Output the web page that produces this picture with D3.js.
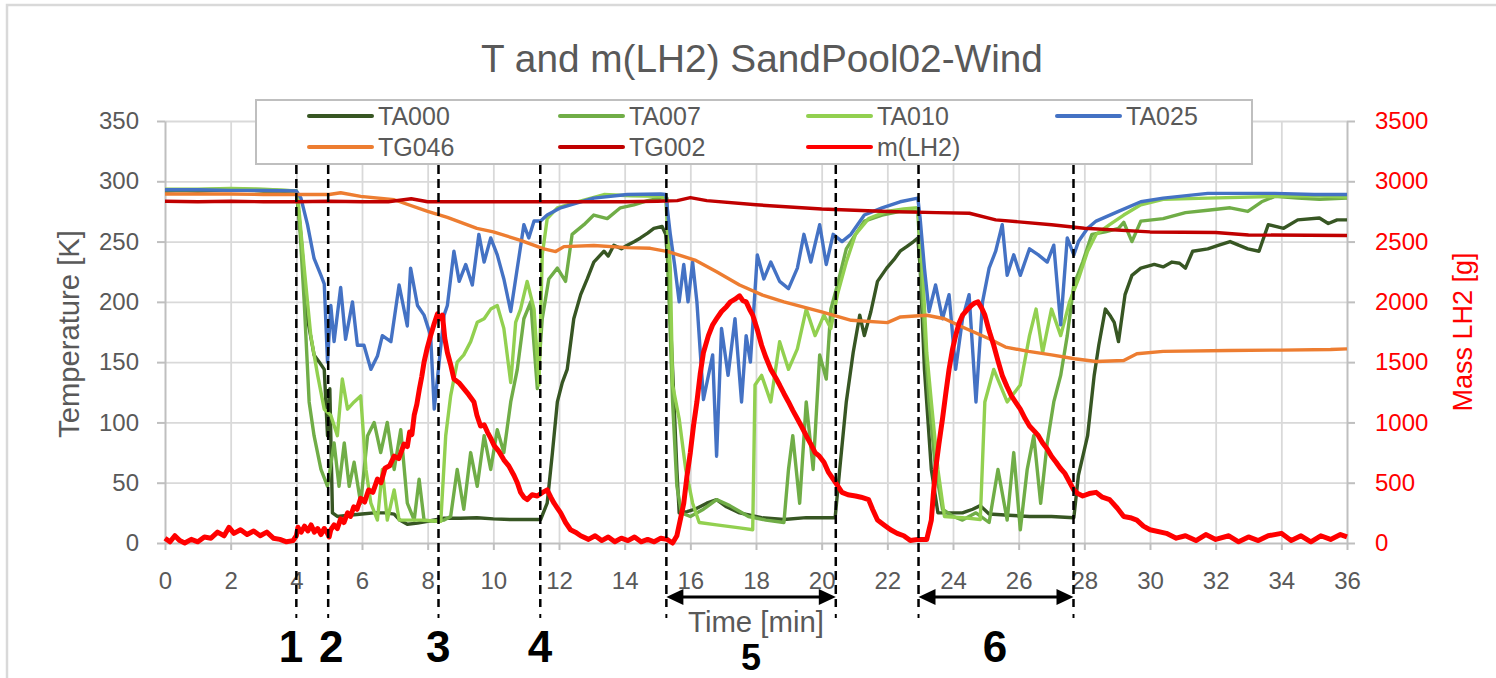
<!DOCTYPE html>
<html><head><meta charset="utf-8">
<script src="https://cdn.jsdelivr.net/npm/d3@7"></script>
<style>
body{margin:0;background:#fff;}
svg{display:block;}
text{font-family:"Liberation Sans",Arial,sans-serif;}
</style>
</head><body>
<svg id="chart" width="1496" height="678"></svg>
<script>
// ---------------- DATA ----------------
const chartTitle = "T and m(LH2) SandPool02-Wind";
const xTicks = [0,2,4,6,8,10,12,14,16,18,20,22,24,26,28,30,32,34,36];
const yTicks = [0,50,100,150,200,250,300,350];
const y2Ticks = [0,500,1000,1500,2000,2500,3000,3500];
const seriesNames = ["TA000","TA007","TA010","TA025","TG046","TG002","m(LH2)"];
const seriesColors = ["#375623","#70ad47","#92d050","#4472c4","#ed7d31","#c00000","#ff0000"];

// [time min, temperature K]
const TA000 = [[0,292],[0.5,292.5],[1,292],[1.5,292.5],[2,293],[2.5,292.5],[3,292],[3.5,292],[4,291.5],[4.14,255],[4.34,186],[4.54,156],[4.7,150],[4.85,144],[4.95,89],[5.02,128],[5.1,25],[5.25,22],[5.6,23],[6,24],[6.37,25],[6.7,25],[6.98,24],[7.15,19],[7.38,15.5],[7.69,16.5],[8,18],[8.5,20.5],[9,20.5],[9.5,21],[10,20],[10.5,19.5],[11.03,19.5],[11.44,19.5],[11.64,33],[11.8,75],[11.95,117],[12.1,133],[12.25,144],[12.45,186],[12.66,206],[12.86,219],[13.06,233],[13.37,242],[13.5,238],[13.67,247],[13.9,244],[14.08,247],[14.3,250],[14.48,253],[14.7,257],[14.89,261],[15.14,262.5],[15.25,256],[15.32,230],[15.46,144],[15.59,61],[15.66,25],[15.9,26],[16.14,28],[16.5,33],[16.8,36],[17.1,30],[17.5,25],[18.17,21],[18.85,19.5],[19.53,21],[20.41,21],[20.55,61],[20.75,117],[20.96,158],[21.16,189],[21.3,172],[21.5,192],[21.7,217],[21.98,228],[22.2,235],[22.39,242],[22.6,246],[22.8,250],[22.93,253],[23.0,228],[23.13,144],[23.34,61],[23.54,25],[24,25],[24.29,25],[24.6,28],[24.83,31],[25.1,24],[25.7,23],[26.33,22],[27,22],[27.68,21],[27.82,56],[28.1,89],[28.3,139],[28.44,164],[28.64,194],[28.8,188],[28.91,183],[29.04,167],[29.24,206],[29.45,222],[29.72,228],[30.13,231],[30.4,229],[30.67,233],[30.9,232],[31.08,228],[31.3,242],[31.76,244],[32.1,247],[32.44,250],[32.7,247],[32.98,244],[33.32,242],[33.6,264],[34.07,261],[34.5,268],[35.16,269.5],[35.43,265],[35.7,268],[36,268]];

const TA007 = [[0,293],[1,293],[2,293.5],[3,293],[4,292],[4.09,269],[4.24,200],[4.39,117],[4.54,89],[4.75,61],[4.95,47],[5.15,83],[5.3,47],[5.46,83],[5.61,47],[5.76,67],[5.96,33],[6.17,89],[6.37,100],[6.57,75],[6.77,100],[6.98,61],[7.18,94],[7.38,33],[7.59,19],[7.74,53],[7.89,19],[8.2,18],[8.5,19],[8.7,22],[8.9,61],[9.1,28],[9.31,75],[9.51,47],[9.72,89],[9.92,61],[10.12,94],[10.32,75],[10.53,117],[10.73,144],[10.93,186],[11.14,200],[11.34,128],[11.49,186],[11.69,219],[11.95,228],[12.2,217],[12.4,256],[12.76,264],[13.06,272],[13.47,269],[13.87,278],[14.28,280.5],[14.7,284],[15.1,286],[15.29,286],[15.32,228],[15.46,117],[15.59,47],[15.73,25],[16,22],[16.4,28],[16.8,36],[17.2,31],[17.77,22],[18.3,19],[18.85,17],[18.99,61],[19.12,89],[19.33,33],[19.53,117],[19.74,61],[19.94,156],[20.14,136],[20.28,194],[20.48,214],[20.75,244],[21.03,256],[21.3,267],[21.84,272],[22.39,275],[22.93,275],[23.07,200],[23.27,117],[23.47,61],[23.68,28],[24.01,22],[24.29,19],[24.7,25],[25.1,17],[25.37,61],[25.65,19],[25.85,75],[26.05,11],[26.26,61],[26.46,89],[26.67,33],[26.87,83],[27.07,117],[27.28,139],[27.48,172],[27.68,214],[27.95,233],[28.23,256],[28.64,258],[29.04,261],[29.2,266],[29.45,250],[29.72,267],[30.4,269],[31.08,274],[31.76,276],[32.44,278],[32.98,275],[33.4,283],[33.8,287.5],[34.5,286],[35.16,285],[36,286]];

const TA010 = [[0,293.5],[1,293.5],[2,294],[3,293.5],[4,292],[4.04,289],[4.24,228],[4.44,172],[4.65,139],[4.85,111],[5.05,106],[5.25,89],[5.4,136],[5.56,111],[5.76,117],[5.96,122],[6.12,61],[6.27,33],[6.47,19],[6.62,61],[6.77,19],[6.98,44],[7.13,19],[7.38,19],[7.79,19],[8.4,18],[8.55,89],[8.7,122],[8.9,150],[9.1,156],[9.31,167],[9.51,183],[9.72,186],[9.92,194],[10.12,197],[10.32,178],[10.53,133],[10.68,183],[10.83,194],[11.03,217],[11.24,194],[11.39,131],[11.49,239],[11.64,269],[11.95,278],[12.56,283],[13.37,289],[14.2,288],[15.1,287.5],[15.25,285],[15.39,228],[15.46,131],[15.66,103],[15.86,61],[16.07,33],[16.27,17],[16.8,15],[17.5,12.5],[17.9,11],[17.97,131],[18.17,139],[18.45,117],[18.72,167],[18.99,144],[19.26,161],[19.53,194],[19.8,172],[20.07,189],[20.28,178],[20.48,206],[20.75,233],[21.03,256],[21.43,269],[21.98,275],[22.5,277],[22.93,278],[23.07,228],[23.2,158],[23.34,117],[23.54,61],[23.74,22],[24.29,21],[24.83,19.5],[24.97,117],[25.24,144],[25.65,117],[26.05,131],[26.33,172],[26.53,194],[26.73,158],[27,194],[27.28,172],[27.55,200],[27.82,219],[28.1,242],[28.36,256],[28.77,264],[29.2,272],[29.72,280.5],[30.4,285],[31.76,286],[33.8,287.5],[35,288],[36,287]];

const TA025 = [[0,293],[1,293],[2,292.5],[3,292.5],[4,292],[4.14,286],[4.34,264],[4.54,236],[4.75,222],[4.85,215],[4.95,150],[5.05,197],[5.15,167],[5.35,212],[5.5,169],[5.71,200],[5.86,164],[6.06,164],[6.27,144],[6.47,155],[6.62,172],[6.88,167],[7.13,214],[7.38,180],[7.48,228],[7.69,197],[7.89,189],[8.09,172],[8.2,111],[8.35,150],[8.5,189],[8.6,197],[8.8,242],[8.96,217],[9.16,231],[9.36,214],[9.56,256],[9.72,233],[9.92,253],[10.12,239],[10.32,219],[10.53,192],[10.73,228],[10.93,264],[11.08,253],[11.24,267],[11.44,267],[11.64,272],[12.05,278],[12.56,282],[13.06,286],[14.08,289],[15.1,289.5],[15.25,289],[15.39,256],[15.52,231],[15.66,200],[15.8,231],[15.93,200],[16.07,233],[16.2,200],[16.4,119],[16.68,156],[16.8,72],[16.95,178],[17.15,139],[17.36,186],[17.56,117],[17.7,172],[17.83,150],[18.04,239],[18.24,219],[18.45,233],[18.72,217],[18.99,211],[19.26,228],[19.46,256],[19.67,233],[19.94,264],[20.14,231],[20.35,256],[20.62,250],[20.89,256],[21.3,272],[21.84,278],[22.39,283],[22.93,286],[23.0,269],[23.13,228],[23.27,192],[23.47,214],[23.68,186],[23.88,206],[24.08,144],[24.29,186],[24.49,206],[24.7,117],[24.9,200],[25.1,228],[25.3,242],[25.5,264],[25.65,222],[25.85,239],[26.05,222],[26.33,244],[26.6,239],[26.87,233],[27.07,247],[27.28,181],[27.48,253],[27.68,239],[27.82,250],[28.1,261],[28.36,267],[29.04,275],[29.72,283],[30.4,286],[31.76,290],[33.8,290],[35,289],[36,289]];

const TG046 = [[0,289.5],[1,289.5],[2,289.5],[3,289],[4,289],[5,289],[5.35,290.5],[5.96,287.5],[6.98,284.7],[8,275],[8.6,270],[9.5,261],[10,258],[10.83,251],[11.54,244],[11.9,241.7],[12.15,245.8],[13.06,246.7],[14.08,245],[14.78,244.4],[15.32,241.7],[16.14,234.7],[16.8,225],[17.5,214],[18.2,205.6],[18.85,200],[20,191.7],[20.9,184.7],[22,182.8],[22.4,187.5],[23.2,188.9],[23.74,186],[24.3,179],[25.1,169.4],[25.6,162.5],[26.3,158.9],[27,156],[27.7,152.8],[28.36,150.5],[29.2,151.4],[29.6,157],[30.4,158.9],[32.4,159.7],[34,160],[35.5,160.5],[36,161]];

const TG002 = [[0,283.5],[1,283],[2,283.5],[3,283],[4,283],[5,283.5],[6,283],[6.8,283],[7.5,285.5],[8,283],[9,283],[10,283],[11,283],[12,283],[13,283],[14,283],[15,283.5],[15.6,284],[16,286.5],[16.5,284],[18,280.5],[20,277],[22,275],[23.5,274],[24.5,273.5],[25.3,268],[27,264],[28,261],[30,258],[32,257.5],[33,255.5],[36,255]];

// [time min, mass g] (secondary axis)
const mLH2 = [[0,40],[0.15,10],[0.3,60],[0.45,20],[0.6,0],[0.8,30],[1.0,10],[1.2,50],[1.4,40],[1.6,90],[1.8,60],[1.95,130],[2.1,80],[2.3,110],[2.5,70],[2.7,100],[2.9,60],[3.1,90],[3.3,40],[3.5,30],[3.7,10],[3.9,20],
[4.0,60],[4.05,130],[4.15,90],[4.25,140],[4.35,100],[4.45,150],[4.55,90],[4.65,120],[4.75,70],[4.85,120],[4.95,80],[5.0,50],[5.05,110],
[5.15,150],[5.25,120],[5.35,200],[5.45,170],[5.56,250],[5.65,220],[5.75,300],[5.85,280],[5.96,370],[6.08,340],[6.2,440],[6.33,420],[6.47,530],[6.58,500],[6.7,620],[6.84,640],[6.98,720],[7.12,700],[7.28,820],[7.38,800],[7.45,920],[7.52,900],[7.59,1060],[7.67,1150],[7.75,1280],[7.82,1380],[7.89,1500],[7.99,1620],[8.09,1720],[8.2,1820],[8.3,1900],[8.38,1860],[8.45,1890],[8.52,1700],[8.6,1580],[8.7,1480],[8.8,1360],[8.95,1330],[9.1,1280],[9.25,1230],[9.41,1170],[9.5,1060],[9.61,970],[9.72,980],[9.82,920],[9.92,870],[10.02,810],[10.17,760],[10.32,690],[10.47,640],[10.63,560],[10.73,500],[10.83,420],[10.93,380],[11.03,360],[11.18,400],[11.34,390],[11.5,420],[11.64,440],[11.75,380],[11.85,330],[11.95,290],[12.05,250],[12.2,170],[12.35,110],[12.5,90],[12.66,60],
[12.9,30],[13.1,60],[13.3,20],[13.5,50],[13.7,10],[13.9,40],[14.1,20],[14.3,50],[14.5,10],[14.7,30],[14.9,10],[15.1,40],[15.29,30],[15.46,0],[15.59,60],
[15.7,200],[15.8,330],[15.9,560],[16,750],[16.1,980],[16.2,1170],[16.3,1400],[16.4,1580],[16.55,1720],[16.68,1810],[16.8,1860],[16.95,1920],[17.1,1960],[17.22,2000],[17.35,2020],[17.5,2050],[17.6,2010],[17.7,2000],[17.8,1940],[17.9,1890],[18.05,1760],[18.17,1640],[18.3,1540],[18.45,1440],[18.6,1370],[18.72,1310],[18.85,1240],[18.99,1170],[19.12,1100],[19.26,1030],[19.4,960],[19.53,890],[19.67,820],[19.8,750],[19.93,720],[20.07,670],[20.2,590],[20.35,530],[20.5,470],[20.62,420],[20.8,400],[21.03,390],[21.2,380],[21.43,360],[21.55,280],[21.7,190],[21.9,150],[22.1,110],[22.3,80],[22.5,60],[22.7,20],[22.93,30],[23.2,30],
[23.34,190],[23.4,400],[23.47,610],[23.57,820],[23.68,1030],[23.78,1240],[23.88,1440],[23.98,1600],[24.08,1720],[24.18,1820],[24.29,1890],[24.42,1930],[24.56,1970],[24.66,1990],[24.76,2000],[24.87,1950],[24.97,1890],[25.1,1760],[25.24,1640],[25.37,1510],[25.5,1390],[25.64,1300],[25.78,1220],[25.9,1170],[26.05,1110],[26.2,1030],[26.33,970],[26.47,930],[26.6,890],[26.73,830],[26.87,780],[27,720],[27.14,670],[27.27,620],[27.4,580],[27.54,510],[27.68,440],[27.8,410],[27.95,390],[28.15,410],[28.36,420],[28.55,380],[28.77,360],[29.0,290],[29.2,220],[29.4,210],[29.6,190],[29.8,140],[30,110],
[30.5,80],[30.8,40],[31.08,60],[31.4,20],[31.7,70],[32,30],[32.4,60],[32.7,10],[33,50],[33.3,20],[33.6,60],[34,80],[34.3,20],[34.6,60],[34.9,10],[35.2,60],[35.5,30],[35.8,70],[36,50]];

// annotation phase markers (min)
const markerTimes = [4.0, 4.97, 8.33, 11.43, 15.27, 20.43, 22.95, 27.67];
const markerLabels = ["1","2","3","4","5","6"];
const markerLabelTimes = [3.84, 5.06, 8.32, 11.42, 17.85, 25.28];
const arrowSpans = [[15.27, 20.43], [22.95, 27.67]];

// ---------------- LAYOUT ----------------
const svg = d3.select("#chart");
const L = 165, R = 1347, T = 121, B = 543;
const x = d3.scaleLinear().domain([0,36]).range([L,R]);
const y = d3.scaleLinear().domain([0,350]).range([B,T]);
const y2 = d3.scaleLinear().domain([0,3500]).range([B,T]);
const textGrey = "#595959";

function fitWidth(sel, target){
  const n = sel.node();
  const fs = parseFloat(sel.attr("font-size"));
  const w = n.getComputedTextLength();
  sel.attr("font-size", (fs*target/w).toFixed(2));
}

// chart frame
svg.append("rect").attr("x",7).attr("y",5).attr("width",1600).attr("height",800)
  .attr("fill","#fff").attr("stroke","#d9d9d9").attr("stroke-width",2.5);

// title
const title = svg.append("text").attr("x",762).attr("y",72).attr("text-anchor","middle")
  .attr("font-size",36).attr("fill",textGrey).text(chartTitle);
fitWidth(title, 562);

// gridlines
const gx = svg.append("g").attr("transform",`translate(0,${B})`)
  .call(d3.axisBottom(x).tickValues(xTicks.slice(1,-1)).tickSize(-(B-T)).tickFormat(""));
gx.select(".domain").remove();
gx.selectAll("line").attr("stroke","#d9d9d9").attr("stroke-width",1.8);
const gy = svg.append("g").attr("transform",`translate(${L},0)`)
  .call(d3.axisLeft(y).tickValues(yTicks.slice(1)).tickSize(-(R-L)).tickFormat(""));
gy.select(".domain").remove();
gy.selectAll("line").attr("stroke","#d9d9d9").attr("stroke-width",1.8);

// axes
const axisColor = "#bfbfbf";
const xa = svg.append("g").attr("transform",`translate(0,${B})`)
  .call(d3.axisBottom(x).tickValues(xTicks).tickSize(7).tickSizeOuter(0).tickPadding(22).tickFormat(d3.format("d")));
const ya = svg.append("g").attr("transform",`translate(${L},0)`)
  .call(d3.axisLeft(y).tickValues(yTicks).tickSize(8).tickSizeOuter(0).tickPadding(18));
const y2a = svg.append("g").attr("transform",`translate(${R},0)`)
  .call(d3.axisRight(y2).tickValues(y2Ticks).tickSize(8).tickSizeOuter(0).tickPadding(20).tickFormat(d3.format("d")));
[xa,ya,y2a].forEach(a=>{
  a.select(".domain").attr("stroke",axisColor).attr("stroke-width",2);
  a.selectAll(".tick line").attr("stroke",axisColor).attr("stroke-width",2);
  a.selectAll("text").attr("font-size",24).attr("font-family","Liberation Sans, Arial, sans-serif").attr("fill",textGrey);
});
y2a.selectAll("text").attr("fill","#ff0000");
xa.selectAll("text").attr("dy","0.72em");

// axis titles
const yt = svg.append("text").attr("transform","translate(68,334) rotate(-90)").attr("text-anchor","middle")
  .attr("dy","0.36em").attr("font-size",26).attr("fill",textGrey).text("Temperature [K]");
fitWidth(yt, 208);
const y2t = svg.append("text").attr("transform","translate(1462,332) rotate(-90)").attr("text-anchor","middle")
  .attr("dy","0.36em").attr("font-size",26).attr("fill","#ff0000").text("Mass LH2 [g]");
fitWidth(y2t, 159);
const xt = svg.append("text").attr("x",756).attr("y",621).attr("text-anchor","middle")
  .attr("dy","0.36em").attr("font-size",24).attr("fill",textGrey).text("Time [min]");
fitWidth(xt, 136);

// legend
const lg = svg.append("g");
lg.append("rect").attr("x",256).attr("y",100).attr("width",996).attr("height",64)
  .attr("fill","#fff").attr("stroke","#bfbfbf").attr("stroke-width",2);
const legCols = [309,560,808,1057];
const legRows = [116,147];
seriesNames.forEach((n,i)=>{
  const cx = legCols[i%4], cy = legRows[Math.floor(i/4)];
  lg.append("line").attr("x1",cx).attr("x2",cx+63).attr("y1",cy).attr("y2",cy)
    .attr("stroke",seriesColors[i]).attr("stroke-width",4).attr("stroke-linecap","round");
  lg.append("text").attr("x",cx+69).attr("y",cy).attr("dy","0.36em").attr("font-size",25)
    .attr("fill",textGrey).text(n);
});

// series
const tempSeries = [TA000,TA007,TA010,TA025,TG046,TG002];
const lineT = d3.line().x(d=>x(d[0])).y(d=>y(d[1]));
const lineM = d3.line().x(d=>x(d[0])).y(d=>y2(d[1]));
tempSeries.forEach((s,i)=>{
  svg.append("path").datum(s).attr("d",lineT).attr("fill","none")
    .attr("stroke",seriesColors[i]).attr("stroke-width",3.4).attr("stroke-linejoin","round");
});
svg.append("path").datum(mLH2).attr("d",lineM).attr("fill","none")
  .attr("stroke",seriesColors[6]).attr("stroke-width",5).attr("stroke-linejoin","round");

// dashed phase markers
const mk = svg.append("g");
markerTimes.forEach(t=>{
  mk.append("line").attr("x1",x(t)).attr("x2",x(t)).attr("y1",165).attr("y2",607)
    .attr("stroke","#000").attr("stroke-width",2.5).attr("stroke-dasharray","9,5");
  mk.append("line").attr("x1",x(t)).attr("x2",x(t)).attr("y1",614).attr("y2",618)
    .attr("stroke","#000").attr("stroke-width",2);
});
// arrows
arrowSpans.forEach(([a,b])=>{
  const x1 = x(a), x2 = x(b), yy = 597;
  mk.append("line").attr("x1",x1+10).attr("x2",x2-10).attr("y1",yy).attr("y2",yy)
    .attr("stroke","#000").attr("stroke-width",3);
  mk.append("path").attr("d",`M${x1},${yy} L${x1+17},${yy-8} L${x1+17},${yy+8} Z`).attr("fill","#000");
  mk.append("path").attr("d",`M${x2},${yy} L${x2-17},${yy-8} L${x2-17},${yy+8} Z`).attr("fill","#000");
});
// numbers
const labelBase = [662,662,662,662,670,662];
const labelSize = [44,44,44,44,36,44];
markerLabels.forEach((l,i)=>{
  mk.append("text").attr("x",x(markerLabelTimes[i])).attr("y",labelBase[i]).attr("text-anchor","middle")
    .attr("font-size",labelSize[i]).attr("font-weight","bold").attr("fill","#000").text(l);
});
</script>
</body></html>
